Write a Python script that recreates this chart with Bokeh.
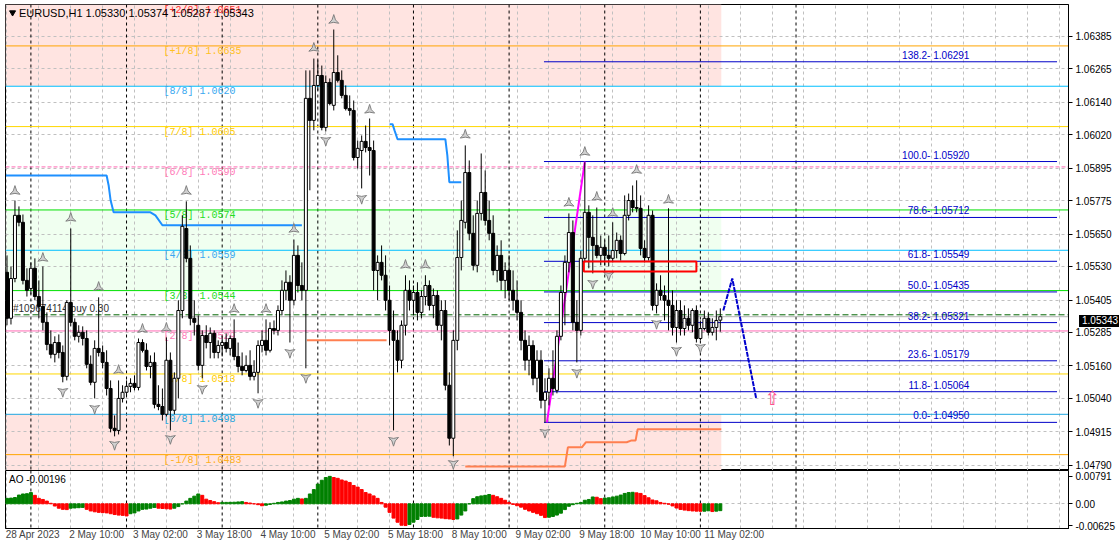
from bokeh.plotting import figure
from bokeh.models import Range1d, FixedTicker, Span, BoxAnnotation, PrintfTickFormatter, Div
from bokeh.layouts import column
from bokeh.embed import file_html
from bokeh.resources import INLINE
from bokeh.core.properties import value

FONT = "Liberation Sans"
MONO = "Liberation Mono"

# ---------------- data ----------------
# H1 bars; bar index = trading hours since 2 May 2023 00:00 (first bar = -6)
first_bar = -6
bar_open = [
    1.05508, 1.05337, 1.05485, 1.05720, 1.05694, 1.05478, 1.05448, 1.05523, 1.05418, 1.05381,
    1.05322, 1.05240, 1.05203, 1.05247, 1.05210, 1.05121, 1.05396, 1.05322, 1.05270, 1.05285,
    1.05262, 1.05166, 1.05099, 1.05225, 1.05210, 1.05173, 1.05076, 1.04928, 1.04920, 1.05039,
    1.05062, 1.05084, 1.05095, 1.05080, 1.05247, 1.05218, 1.05158, 1.05173, 1.05017, 1.05009,
    1.04980, 1.05181, 1.04995, 1.05114, 1.05366, 1.05671, 1.05560, 1.05337, 1.05311, 1.05162,
    1.05273, 1.05247, 1.05281, 1.05210, 1.05236, 1.05247, 1.05225, 1.05262, 1.05195, 1.05158,
    1.05143, 1.05162, 1.05121, 1.05136, 1.05236, 1.05255, 1.05218, 1.05299, 1.05292, 1.05366,
    1.05441, 1.05471, 1.05404, 1.05571, 1.05459, 1.05441, 1.06155, 1.06073, 1.06203, 1.06240,
    1.06047, 1.06214, 1.06129, 1.06251, 1.06222, 1.06166, 1.06117, 1.06110, 1.05935, 1.05961,
    1.05995, 1.05972, 1.05961, 1.05515, 1.05545, 1.05497, 1.05404, 1.05292, 1.05255, 1.05181,
    1.05311, 1.05441, 1.05404, 1.05433, 1.05359, 1.05418, 1.05459, 1.05385, 1.05422, 1.05311,
    1.05366, 1.05088, 1.04891, 1.05255, 1.05563, 1.05694, 1.05879, 1.05653, 1.05534, 1.05727,
    1.05805, 1.05701, 1.05653, 1.05515, 1.05571, 1.05478, 1.05515, 1.05441, 1.05404, 1.05359,
    1.05255, 1.05181, 1.05236, 1.05114, 1.05181, 1.05032, 1.05062, 1.05114, 1.05069, 1.05270,
    1.05433, 1.05545, 1.05656, 1.05322, 1.05292, 1.05560, 1.05731, 1.05638, 1.05608, 1.05571,
    1.05601, 1.05571, 1.05560, 1.05589, 1.05627, 1.05578, 1.05720, 1.05775, 1.05749, 1.05746,
    1.05597, 1.05563, 1.05720, 1.05385, 1.05441, 1.05422, 1.05404, 1.05385, 1.05303, 1.05366,
    1.05299, 1.05337, 1.05311, 1.05366, 1.05262, 1.05299, 1.05337, 1.05285, 1.05303, 1.05330]
bar_high = [
    1.05571, 1.05530, 1.05775, 1.05753, 1.05723, 1.05523, 1.05545, 1.05560, 1.05478, 1.05530,
    1.05359, 1.05292, 1.05270, 1.05277, 1.05236, 1.05404, 1.05671, 1.05337, 1.05311, 1.05307,
    1.05292, 1.05199, 1.05255, 1.05415, 1.05236, 1.05218, 1.05106, 1.04976, 1.05106, 1.05088,
    1.05106, 1.05114, 1.05125, 1.05262, 1.05259, 1.05244, 1.05199, 1.05210, 1.05088, 1.05076,
    1.05266, 1.05210, 1.05136, 1.05404, 1.05720, 1.05772, 1.05608, 1.05404, 1.05348, 1.05292,
    1.05311, 1.05303, 1.05292, 1.05255, 1.05273, 1.05281, 1.05273, 1.05333, 1.05247, 1.05210,
    1.05199, 1.05218, 1.05181, 1.05255, 1.05292, 1.05333, 1.05322, 1.05329, 1.05385, 1.05478,
    1.05515, 1.05497, 1.05630, 1.05608, 1.05545, 1.06259, 1.06259, 1.06303, 1.06296, 1.06277,
    1.06240, 1.06229, 1.06411, 1.06315, 1.06259, 1.06203, 1.06166, 1.06147, 1.05998, 1.06017,
    1.06054, 1.06080, 1.05998, 1.05571, 1.05608, 1.05571, 1.05459, 1.05366, 1.05292, 1.05329,
    1.05497, 1.05478, 1.05459, 1.05471, 1.05441, 1.05497, 1.05478, 1.05448, 1.05441, 1.05404,
    1.05404, 1.05136, 1.05292, 1.05664, 1.05775, 1.05980, 1.05924, 1.05720, 1.05775, 1.05950,
    1.05887, 1.05775, 1.05720, 1.05608, 1.05627, 1.05545, 1.05571, 1.05515, 1.05478, 1.05404,
    1.05292, 1.05273, 1.05255, 1.05218, 1.05218, 1.05114, 1.05151, 1.05218, 1.05292, 1.05459,
    1.05571, 1.05727, 1.05701, 1.05404, 1.05589, 1.05917, 1.05757, 1.05720, 1.05749, 1.05645,
    1.05627, 1.05645, 1.05694, 1.05656, 1.05645, 1.05794, 1.05801, 1.05831, 1.05850, 1.05794,
    1.05627, 1.05757, 1.05738, 1.05467, 1.05497, 1.05459, 1.05746, 1.05441, 1.05404, 1.05404,
    1.05385, 1.05374, 1.05374, 1.05385, 1.05329, 1.05366, 1.05359, 1.05337, 1.05366, 1.05374]
bar_low = [
    1.05311, 1.05314, 1.05471, 1.05679, 1.05463, 1.05418, 1.05426, 1.05404, 1.05337, 1.05292,
    1.05218, 1.05188, 1.05173, 1.05188, 1.05099, 1.05106, 1.05307, 1.05255, 1.05247, 1.05236,
    1.05151, 1.05088, 1.05039, 1.05195, 1.05151, 1.05050, 1.04913, 1.04898, 1.04905, 1.05024,
    1.05047, 1.05062, 1.05069, 1.05069, 1.05210, 1.05143, 1.05114, 1.05002, 1.04995, 1.04957,
    1.04972, 1.04920, 1.04980, 1.05039, 1.05337, 1.05545, 1.05311, 1.05273, 1.05143, 1.05114,
    1.05225, 1.05188, 1.05188, 1.05188, 1.05195, 1.05210, 1.05199, 1.05181, 1.05136, 1.05125,
    1.05136, 1.05106, 1.05106, 1.05058, 1.05210, 1.05199, 1.05210, 1.05277, 1.05273, 1.05348,
    1.05404, 1.05247, 1.05385, 1.05433, 1.05404, 1.05151, 1.05813, 1.06036, 1.06184, 1.06036,
    1.06032, 1.06129, 1.06110, 1.06214, 1.06155, 1.06110, 1.06091, 1.05924, 1.05894, 1.05820,
    1.05954, 1.05868, 1.05441, 1.05404, 1.05478, 1.05366, 1.05236, 1.04920, 1.05136, 1.05151,
    1.05273, 1.05366, 1.05348, 1.05329, 1.05337, 1.05385, 1.05366, 1.05337, 1.05292, 1.05255,
    1.05069, 1.04864, 1.04824, 1.05218, 1.05515, 1.05671, 1.05627, 1.05515, 1.05508, 1.05701,
    1.05682, 1.05627, 1.05497, 1.05471, 1.05441, 1.05411, 1.05404, 1.05366, 1.05329, 1.05218,
    1.05143, 1.05125, 1.05088, 1.05062, 1.05002, 1.04950, 1.05013, 1.05050, 1.05058, 1.05255,
    1.05311, 1.05508, 1.05292, 1.05173, 1.05273, 1.05545, 1.05523, 1.05504, 1.05560, 1.05534,
    1.05534, 1.05530, 1.05545, 1.05560, 1.05552, 1.05571, 1.05701, 1.05731, 1.05731, 1.05571,
    1.05545, 1.05552, 1.05366, 1.05355, 1.05404, 1.05329, 1.05292, 1.05273, 1.05247, 1.05273,
    1.05273, 1.05292, 1.05285, 1.05247, 1.05255, 1.05292, 1.05273, 1.05273, 1.05255, 1.05287]
bar_close = [
    1.05337, 1.05485, 1.05720, 1.05694, 1.05478, 1.05441, 1.05523, 1.05418, 1.05381, 1.05322,
    1.05240, 1.05203, 1.05247, 1.05210, 1.05121, 1.05396, 1.05322, 1.05270, 1.05285, 1.05262,
    1.05166, 1.05099, 1.05225, 1.05210, 1.05173, 1.05076, 1.04928, 1.04920, 1.05039, 1.05062,
    1.05084, 1.05095, 1.05080, 1.05247, 1.05218, 1.05158, 1.05173, 1.05017, 1.05009, 1.04980,
    1.05181, 1.04995, 1.05114, 1.05366, 1.05679, 1.05560, 1.05337, 1.05322, 1.05162, 1.05273,
    1.05247, 1.05281, 1.05210, 1.05236, 1.05247, 1.05225, 1.05262, 1.05195, 1.05158, 1.05143,
    1.05162, 1.05121, 1.05136, 1.05236, 1.05255, 1.05218, 1.05299, 1.05292, 1.05366, 1.05441,
    1.05471, 1.05404, 1.05571, 1.05459, 1.05441, 1.06155, 1.06073, 1.06203, 1.06240, 1.06047,
    1.06214, 1.06136, 1.06251, 1.06222, 1.06166, 1.06117, 1.06110, 1.05935, 1.05969, 1.05995,
    1.05972, 1.05961, 1.05515, 1.05545, 1.05497, 1.05404, 1.05292, 1.05255, 1.05181, 1.05311,
    1.05441, 1.05404, 1.05433, 1.05359, 1.05418, 1.05459, 1.05385, 1.05422, 1.05311, 1.05366,
    1.05088, 1.04891, 1.05255, 1.05563, 1.05701, 1.05879, 1.05653, 1.05534, 1.05727, 1.05805,
    1.05701, 1.05653, 1.05515, 1.05571, 1.05478, 1.05515, 1.05441, 1.05404, 1.05359, 1.05255,
    1.05181, 1.05236, 1.05114, 1.05181, 1.05032, 1.05062, 1.05114, 1.05076, 1.05270, 1.05433,
    1.05545, 1.05656, 1.05322, 1.05292, 1.05560, 1.05731, 1.05638, 1.05608, 1.05571, 1.05601,
    1.05571, 1.05560, 1.05589, 1.05627, 1.05578, 1.05720, 1.05775, 1.05749, 1.05746, 1.05597,
    1.05563, 1.05720, 1.05385, 1.05441, 1.05422, 1.05404, 1.05385, 1.05303, 1.05366, 1.05299,
    1.05337, 1.05311, 1.05366, 1.05262, 1.05299, 1.05337, 1.05285, 1.05303, 1.05329, 1.05343]
ao_values = [
    0.00158, 0.00165, 0.00182, 0.00253, 0.00284, 0.00292, 0.00324, 0.00245, 0.00158, 0.00126,
    0.00079, 0.00016, -0.00063, -0.00126, -0.00158, -0.00166, -0.00126, -0.00119, -0.00111, -0.00103,
    -0.00158, -0.00205, -0.00229, -0.00245, -0.00253, -0.00261, -0.00284, -0.00308, -0.00324, -0.00332,
    -0.00348, -0.00284, -0.00261, -0.00205, -0.00158, -0.00150, -0.00126, -0.00103, -0.00126, -0.00134,
    -0.00142, -0.00150, -0.00126, -0.00079, 0.00000, 0.00079, 0.00158, 0.00221, 0.00284, 0.00245,
    0.00134, 0.00095, 0.00063, 0.00032, 0.00040, 0.00042, 0.00044, 0.00047, 0.00055, 0.00063,
    0.00040, 0.00024, 0.00000, -0.00024, -0.00055, -0.00040, -0.00016, 0.00016, 0.00040, 0.00055,
    0.00079, 0.00095, 0.00134, 0.00158, 0.00142, 0.00158, 0.00284, 0.00411, 0.00569, 0.00679,
    0.00758, 0.00791, 0.00758, 0.00735, 0.00687, 0.00656, 0.00616, 0.00529, 0.00482, 0.00411,
    0.00324, 0.00284, 0.00229, 0.00158, 0.00040, -0.00095, -0.00245, -0.00411, -0.00529, -0.00616,
    -0.00625, -0.00593, -0.00529, -0.00450, -0.00363, -0.00360, -0.00356, -0.00387, -0.00403, -0.00411,
    -0.00427, -0.00435, -0.00450, -0.00435, -0.00324, -0.00205, 0.00000, 0.00150, 0.00205, 0.00229,
    0.00245, 0.00269, 0.00245, 0.00205, 0.00158, 0.00103, 0.00040, -0.00016, -0.00055, -0.00095,
    -0.00158, -0.00205, -0.00245, -0.00284, -0.00332, -0.00395, -0.00387, -0.00363, -0.00324, -0.00269,
    -0.00166, -0.00071, -0.00024, 0.00016, 0.00040, 0.00103, 0.00126, 0.00198, 0.00190, 0.00150,
    0.00166, 0.00174, 0.00198, 0.00221, 0.00253, 0.00300, 0.00324, 0.00332, 0.00316, 0.00300,
    0.00237, 0.00174, 0.00111, 0.00087, 0.00040, 0.00016, -0.00010, -0.00060, -0.00120, -0.00160,
    -0.00180, -0.00195, -0.00205, -0.00210, -0.00215, -0.00212, -0.00200, -0.00222, -0.00210, -0.00196]

day_starts = [0, 24, 48, 72, 96, 120, 144, 168, 192]
price_ticks = [1.04790, 1.04915, 1.05040, 1.05160, 1.05285, 1.05405, 1.05530,
               1.05650, 1.05775, 1.05895, 1.06020, 1.06140, 1.06265, 1.06385]
ao_ticks = [-0.00625, 0.0, 0.00791]
ao_tick_labels = ["-0.00625", "0.00", "0.00791"]
time_ticks = list(range(-6, 261, 8))
time_label_ticks = [-6, 10, 26, 42, 58, 74, 90, 106, 122, 138, 154, 170]
time_labels = ["28 Apr 2023", "2 May 10:00", "3 May 02:00", "3 May 18:00", "4 May 10:00",
               "5 May 02:00", "5 May 18:00", "8 May 10:00", "9 May 02:00", "9 May 18:00",
               "10 May 10:00", "11 May 02:00"]

murray_names = ["[+2/8]", "[+1/8]", "[8/8]", "[7/8]", "[6/8]", "[5/8]", "[4/8]",
                "[3/8]", "[2/8]", "[1/8]", "[0/8]", "[-1/8]"]
murray_prices = [1.0651, 1.0635, 1.0620, 1.0605, 1.0590, 1.0574, 1.0559,
                 1.0544, 1.0529, 1.0513, 1.0498, 1.0483]
murray_line_colors = ["#ff3030", "#ffa500", "#00bfff", "#ffd700", "#ff69b4", "#00e000",
                      "#00bfff", "#00e000", "#ff69b4", "#ffd700", "#1ea7e0", "#ffa500"]
murray_text_colors = ["#ff3030", "#ffc020", "#3aa8f0", "#ffcc00", "#ff7ab8", "#22dd22",
                      "#3aa8f0", "#22dd22", "#ff7ab8", "#ffcc00", "#1ea7e0", "#ffb020"]
murray_dash = ["solid", "solid", "solid", "solid", "4 2", "solid", "solid",
               "solid", "solid", "solid", "solid", "solid"]

fib_pcts = [0.0, 11.8, 23.6, 38.2, 50.0, 61.8, 78.6, 100.0, 138.2]
fib_prices = [1.04950, 1.05064, 1.05179, 1.05321, 1.05435, 1.05549, 1.05712, 1.05920, 1.06291]

blue_a_k = [-6.25, 19, 19.5, 20, 20.75, 30, 31.25, 33, 68]
blue_a_p = [1.05868, 1.05868, 1.05832, 1.05776, 1.05731, 1.05731, 1.05720, 1.05683, 1.05683]
blue_b_k = [90, 90.75, 91.25, 92, 104, 104.5, 105, 108]
blue_b_p = [1.06059, 1.06059, 1.06036, 1.06003, 1.06003, 1.05943, 1.05843, 1.05843]
coral_a_k = [69.25, 89.25]
coral_a_p = [1.05255, 1.05255]
coral_b_k = [109, 134, 134.75, 138.25, 139.25, 149.5, 150.75, 151.75, 152.25, 173.25]
coral_b_p = [1.04786, 1.04786, 1.04857, 1.04857, 1.04876, 1.04876, 1.04883, 1.04883, 1.04924, 1.04924]
zigzag_k = [129.5, 139]
zigzag_p = [1.04950, 1.05920]
proj_k = [173.75, 176, 182]
proj_p = [1.05366, 1.05485, 1.05039]

up_frac_k = [-4, 3, 10, 17, 22, 28, 34, 39, 51, 59, 66, 71, 76, 85, 94, 99, 109, 135, 139, 142, 146, 152, 160]
up_frac_p = [1.05809, 1.05560, 1.05709, 1.05452, 1.05143, 1.05296, 1.05300, 1.05809, 1.05370, 1.05370,
             1.05668, 1.06341, 1.06445, 1.06111, 1.05534, 1.05534, 1.06018, 1.05765, 1.05954, 1.05787,
             1.05727, 1.05887, 1.05776]
dn_frac_k = [8, 16, 21, 35, 43, 57, 65, 69, 74, 83, 91, 106, 129, 137, 141, 145, 157, 162, 168]
dn_frac_p = [1.05065, 1.05002, 1.04868, 1.04890, 1.05076, 1.05024, 1.05210, 1.05117, 1.05999, 1.05783,
             1.04883, 1.04797, 1.04913, 1.05136, 1.05467, 1.05497, 1.05318, 1.05218, 1.05229]

order_price = 1.05350
bid_price = 1.05343
rect_k = [138.75, 167.0]
rect_p = [1.05511, 1.05548]
signal_k = 186
signal_p = 1.05040

# ---------------- layout ----------------
X0, X1 = -6.375, 260.375
Y0, Y1 = 1.04771, 1.06504
W = 1112
RB = 45
H1 = 466


def style_common(p):
    p.outline_line_color = "black"
    p.outline_line_width = 1
    p.background_fill_color = "white"
    p.border_fill_color = "white"
    p.min_border_left = 0
    p.min_border_top = 0
    p.min_border_right = RB
    for ax in p.yaxis:
        ax.major_label_text_font = FONT
        ax.major_label_text_font_size = "10px"
        ax.major_label_text_color = "black"
        ax.axis_line_color = "black"
        ax.major_tick_line_color = "black"
        ax.major_tick_out = 4
        ax.major_tick_in = 0
        ax.minor_tick_line_color = None
        ax.major_label_standoff = 3
    p.xgrid.ticker = FixedTicker(ticks=time_ticks)
    p.xgrid.grid_line_color = "#c0c0c0"
    p.xgrid.grid_line_dash = "3 3"
    p.ygrid.grid_line_color = "#c0c0c0"
    p.ygrid.grid_line_dash = "3 3"
    for d in day_starts:
        p.add_layout(Span(location=d, dimension="height", line_color="black",
                          line_dash="3 3", line_width=1, level="underlay"))


xr = Range1d(X0, X1)
p1 = figure(width=W, height=H1, x_range=xr, y_range=Range1d(Y0, Y1),
            output_backend="svg", toolbar_location=None, x_axis_location=None,
            y_axis_location="right", min_border_bottom=0)
style_common(p1)
p1.yaxis.ticker = FixedTicker(ticks=price_ticks)
p1.yaxis.formatter = PrintfTickFormatter(format="%.5f")
p1.ygrid.ticker = FixedTicker(ticks=price_ticks)

# Murray zones
p1.add_layout(BoxAnnotation(left=X0, right=173.25, bottom=murray_prices[2], fill_color="#ffe4e1",
                            fill_alpha=1, line_color=None, level="image"))
p1.add_layout(BoxAnnotation(left=X0, right=173.25, bottom=murray_prices[7], top=murray_prices[5],
                            fill_color="#f0fff0", fill_alpha=1, line_color=None, level="image"))
p1.add_layout(BoxAnnotation(left=X0, right=173.25, top=murray_prices[10], fill_color="#ffe4e1",
                            fill_alpha=1, line_color=None, level="image"))

for pr, col, dash in zip(murray_prices, murray_line_colors, murray_dash):
    p1.add_layout(Span(location=pr, dimension="width", line_color=col, line_width=1,
                       line_dash=dash, level="underlay"))

p1.text(x=[33.25] * len(murray_prices), y=[min(v, Y1 - 0.00003) for v in murray_prices],
        text=[f"{n:<6} {v:.4f}" for n, v in zip(murray_names, murray_prices)],
        text_color=murray_text_colors, text_font=value(MONO), text_font_size="10px",
        text_baseline="top", text_align="left")

# order / bid lines
p1.add_layout(Span(location=bid_price, dimension="width", line_color="#b4b4b4", line_width=1,
                   level="underlay"))
p1.add_layout(Span(location=order_price, dimension="width", line_color="#006400", line_width=1,
                   line_dash="6 3", level="underlay"))
p1.text(x=[-4.5], y=[order_price], text=["#109674114 buy 0.30"],
        text_color="#303030", text_font=value(FONT), text_font_size="10px",
        text_baseline="bottom", text_align="left", y_offset=-1)

# fibonacci
p1.segment(x0=[128.75] * len(fib_prices), x1=[257.5] * len(fib_prices), y0=fib_prices, y1=fib_prices,
           line_color="#0000c8", line_width=1)
p1.text(x=[235.5] * len(fib_prices), y=fib_prices,
        text=[f"{a:.1f}- {b:.5f}" for a, b in zip(fib_pcts, fib_prices)],
        text_color="#0000c8", text_font=value(FONT), text_font_size="10px",
        text_baseline="bottom", text_align="right", y_offset=-1)

# indicator lines
p1.line(blue_a_k, blue_a_p, line_color="#1e90ff", line_width=2)
p1.line(blue_b_k, blue_b_p, line_color="#1e90ff", line_width=2)
p1.line(coral_a_k, coral_a_p, line_color="#ff7f50", line_width=2)
p1.line(coral_b_k, coral_b_p, line_color="#ff7f50", line_width=2)
p1.line(zigzag_k, zigzag_p, line_color="#ff00ff", line_width=2)

# candles
n = len(bar_close)
ks = [first_bar + i for i in range(n)]
bull = [i for i in range(n) if bar_close[i] >= bar_open[i]]
bear = [i for i in range(n) if bar_close[i] < bar_open[i]]
p1.segment(x0=ks, x1=ks, y0=bar_low, y1=bar_high, line_color="black", line_width=1)
p1.vbar(x=[ks[i] for i in bull], width=0.75, bottom=[bar_open[i] for i in bull],
        top=[bar_close[i] for i in bull], fill_color="white", line_color="black", line_width=1)
p1.vbar(x=[ks[i] for i in bear], width=0.75, bottom=[bar_close[i] for i in bear],
        top=[bar_open[i] for i in bear], fill_color="black", line_color="black", line_width=1)

# fractals
p1.scatter(up_frac_k, up_frac_p, marker="triangle_pin", size=10, fill_color="#d0d0d0",
           line_color="#808080", line_width=1)
p1.scatter(dn_frac_k, dn_frac_p, marker="triangle_pin", angle=3.14159, size=10, fill_color="#d0d0d0",
           line_color="#808080", line_width=1)

p1.line(proj_k, proj_p, line_color="#0000cd", line_width=2, line_dash="5 1")
p1.quad(left=[rect_k[0]], right=[rect_k[1]], bottom=[rect_p[0]], top=[rect_p[1]],
        fill_alpha=0, line_color="#ff0000", line_width=2)
p1.text(x=[signal_k], y=[signal_p], text=["\u21e7"], text_color="#ff4f8f",
        text_font=value("DejaVu Sans"), text_font_size="19px", text_align="center",
        text_baseline="middle")

# header
p1.scatter([-4.6], [1.06474], marker="inverted_triangle", size=6, color="black")
p1.text(x=[-3.0], y=[1.06474],
        text=["EURUSD,H1  1.05330 1.05374 1.05287 1.05343"], text_color="black",
        text_font=value(FONT), text_font_size="11px", text_baseline="middle", text_align="left")

# ---------------- AO panel ----------------
p2 = figure(width=W, height=72, x_range=xr, y_range=Range1d(-0.0071, 0.0096),
            output_backend="svg", toolbar_location=None, y_axis_location="right",
            x_axis_location="below", min_border_bottom=0)
style_common(p2)
p2.yaxis.ticker = FixedTicker(ticks=ao_ticks)
p2.yaxis.major_label_overrides = {t: s for t, s in zip(ao_ticks, ao_tick_labels)}
p2.ygrid.ticker = FixedTicker(ticks=[0.0])
ax = p2.xaxis[0]
label_pos = [t + 6.5 for t in time_label_ticks]
ax.ticker = FixedTicker(ticks=label_pos)
ax.major_label_overrides = {t: s for t, s in zip(label_pos, time_labels)}
ax.major_label_text_font = FONT
ax.major_label_text_font_size = "10px"
ax.major_label_standoff = 0
ax.major_tick_out = 0
ax.major_tick_in = 0
ax.major_tick_line_color = None
ax.minor_tick_line_color = None
ax.axis_line_color = "black"

ao_k = [first_bar + i for i in range(len(ao_values))]
ao_col = ["#008000" if i == 0 or ao_values[i] >= ao_values[i - 1] else "#ff0000"
          for i in range(len(ao_values))]
p2.vbar(x=ao_k, width=0.75, top=ao_values, bottom=0, fill_color=ao_col, line_color=ao_col)

p2.text(x=[-5.5], y=[0.0070], text=["AO -0.00196"], text_color="black", text_font=value(FONT),
        text_font_size="10px", text_baseline="middle", text_align="left")

# current bid price box on the price scale
bid_top = round((Y1 - bid_price) / (Y1 - Y0) * H1) - 6
bid_box = Div(text=f"{bid_price:.5f}", width=43, height=12,
              styles={"position": "absolute", "left": f"{W - RB + 2}px", "top": f"{bid_top}px",
                      "background-color": "black", "color": "white",
                      "font-family": FONT, "font-size": "10px", "line-height": "12px",
                      "padding-left": "3px", "z-index": "10"})

layout = column(p1, p2, bid_box, margin=(4, 0, 0, 5), spacing=0)
open("out.html", "w").write(file_html(layout, INLINE))
